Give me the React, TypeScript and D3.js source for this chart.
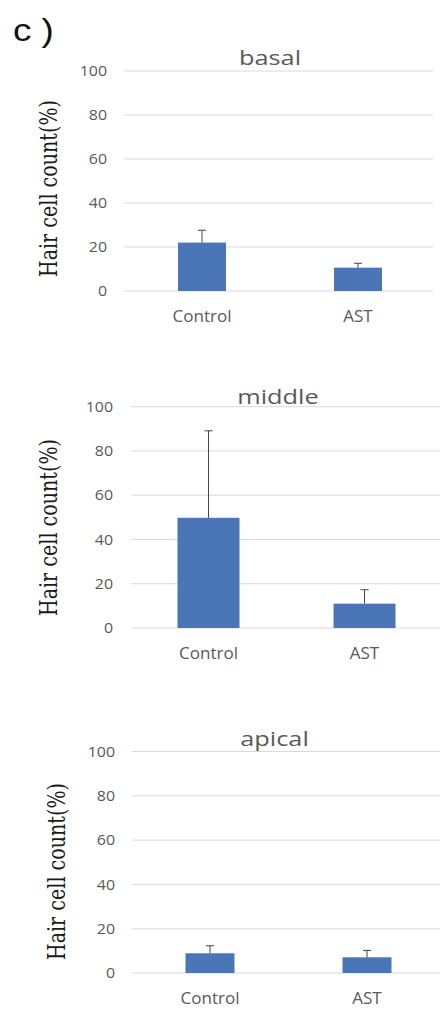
import React, { useRef, useEffect } from 'react';
import * as d3 from 'd3';

// cochlear regions, one small bar chart per region
const regions = ['basal', 'middle', 'apical'];
const groups = ['Control', 'AST'];
const controlMean = [22.0, 49.8, 8.9];
const controlErr = [5.6, 39.3, 3.4];
const astMean = [10.6, 11.0, 7.1];
const astErr = [2.0, 6.3, 3.1];
const yTicks = [0, 20, 40, 60, 80, 100];
const yTitle = 'Hair cell count(%)';
const panelTag = 'c )';

// where each panel sits on the page
const frames = [
  { gx0: 124, gx1: 433, bx0: 124, bx1: 436, top: 71, base: 291, barW: 48, tickX: 107, titleX: 270, titleY: 65, labX: 57, labY: 188.5 },
  { gx0: 131, gx1: 440, bx0: 130.5, bx1: 442.5, top: 406.7, base: 628, barW: 62, tickX: 113, titleX: 278, titleY: 404, labX: 57, labY: 527.5 },
  { gx0: 132, gx1: 440, bx0: 131.5, bx1: 445.5, top: 751.5, base: 973, barW: 49, tickX: 115, titleX: 274.5, titleY: 746, labX: 65, labY: 871.5 },
];

const W = 440;
const H = 1012;
const GREY = '#595959';
const BAR = '#4a76b8';
const SANS = '"Open Sans", "Noto Sans", sans-serif';

const App = () => {
  const svgRef = useRef<SVGSVGElement | null>(null);

  useEffect(() => {
    const svg = d3.select(svgRef.current);
    svg.selectAll('*').remove();

    svg.append('rect').attr('width', W).attr('height', H).attr('fill', '#fff');

    svg.append('g')
      .attr('transform', 'translate(13,41) scale(1.15,1)')
      .append('text')
      .attr('font-family', '"Liberation Sans", Arial, sans-serif')
      .attr('font-size', 32)
      .attr('fill', '#111')
      .text(panelTag);

    regions.forEach((region, i) => {
      const f = frames[i];
      const g = svg.append('g');

      const y = d3.scaleLinear().domain([0, 100]).range([f.base, f.top]);
      const x = d3.scaleBand().domain(groups).range([f.bx0, f.bx1]).padding(0);

      const rows = groups.map((name, k) => ({
        name,
        mean: k === 0 ? controlMean[i] : astMean[i],
        err: k === 0 ? controlErr[i] : astErr[i],
      }));

      // gridlines
      g.selectAll('line.grid')
        .data(yTicks)
        .enter().append('line')
        .attr('x1', f.gx0)
        .attr('x2', f.gx1)
        .attr('y1', d => y(d))
        .attr('y2', d => y(d))
        .attr('stroke', '#d9d9d9')
        .attr('stroke-width', 1);

      // tick labels
      g.selectAll('g.tick')
        .data(yTicks)
        .enter().append('g')
        .attr('transform', d => `translate(${f.tickX},${y(d)}) scale(1.1,1)`)
        .append('text')
        .attr('text-anchor', 'end')
        .attr('dy', '0.36em')
        .attr('font-family', SANS)
        .attr('font-size', 14.5)
        .attr('fill', GREY)
        .text(d => d);

      // bars
      g.selectAll('rect.bar')
        .data(rows)
        .enter().append('rect')
        .attr('x', d => x(d.name)! + x.bandwidth() / 2 - f.barW / 2)
        .attr('width', f.barW)
        .attr('y', d => y(d.mean))
        .attr('height', d => y(0) - y(d.mean))
        .attr('fill', BAR);

      // error bars (upper only)
      const eb = g.selectAll('g.err')
        .data(rows)
        .enter().append('g')
        .attr('stroke', '#444')
        .attr('stroke-width', 1);
      eb.append('line')
        .attr('x1', d => x(d.name)! + x.bandwidth() / 2)
        .attr('x2', d => x(d.name)! + x.bandwidth() / 2)
        .attr('y1', d => y(d.mean))
        .attr('y2', d => y(d.mean + d.err));
      eb.append('line')
        .attr('x1', d => x(d.name)! + x.bandwidth() / 2 - 4)
        .attr('x2', d => x(d.name)! + x.bandwidth() / 2 + 4)
        .attr('y1', d => y(d.mean + d.err))
        .attr('y2', d => y(d.mean + d.err));

      // category labels
      g.selectAll('g.cat')
        .data(groups)
        .enter().append('g')
        .attr('transform', d => `translate(${x(d)! + x.bandwidth() / 2},${f.base + 31}) scale(1.1,1)`)
        .append('text')
        .attr('text-anchor', 'middle')
        .attr('font-family', SANS)
        .attr('font-size', 15.5)
        .attr('fill', GREY)
        .text(d => d);

      // panel title
      g.append('g')
        .attr('transform', `translate(${f.titleX},${f.titleY}) scale(1.3,1)`)
        .append('text')
        .attr('text-anchor', 'middle')
        .attr('font-family', SANS)
        .attr('font-size', 19.5)
        .attr('fill', GREY)
        .text(region);

      // y axis title
      g.append('text')
        .attr('transform', `translate(${f.labX},${f.labY}) rotate(-90)`)
        .attr('text-anchor', 'middle')
        .attr('font-family', '"DejaVu Serif", serif')
        .attr('font-size', 24)
        .attr('textLength', 177)
        .attr('lengthAdjust', 'spacingAndGlyphs')
        .attr('fill', '#1a1a1a')
        .text(yTitle);
    });
  }, []);

  return (
    <svg
      ref={svgRef}
      width={W}
      height={H}
      style={{ position: 'absolute', left: 0, top: 0 }}
    />
  );
};

export default App;
